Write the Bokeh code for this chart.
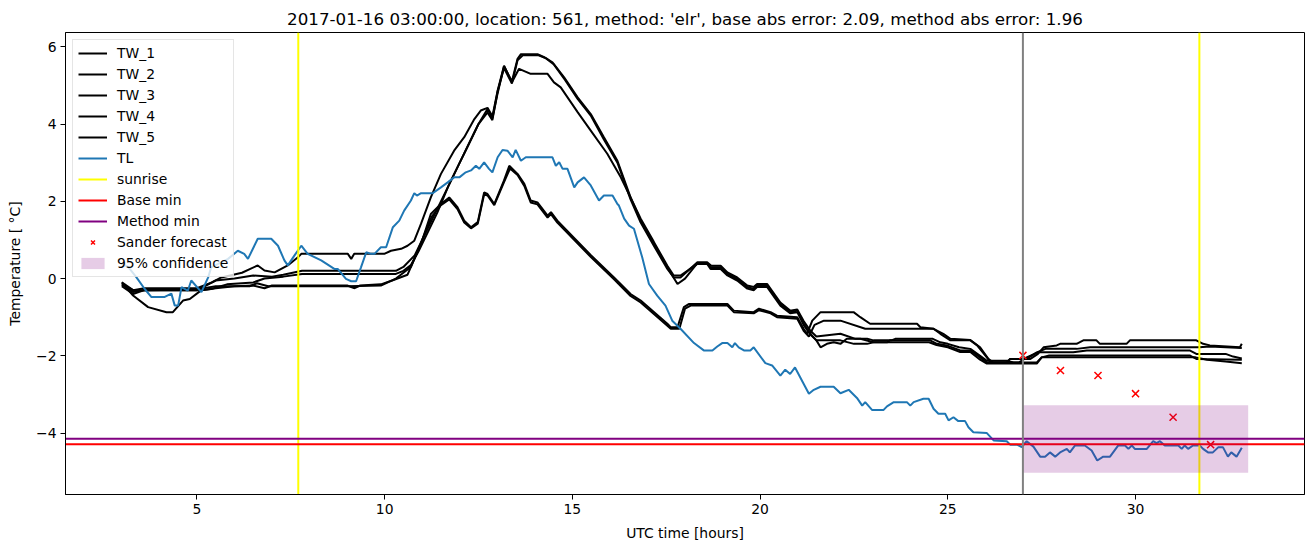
from bokeh.plotting import figure
from bokeh.models import Span, Legend, LegendItem, FixedTicker, Range1d
from bokeh.embed import file_html
from bokeh.resources import INLINE

TITLE = "2017-01-16 03:00:00, location: 561, method: 'elr', base abs error: 2.09, method abs error: 1.96"

# (hour, temperature) readings
TW_1 = [(3.0, -0.15), (3.3, -0.35), (3.6, -0.3), (5.0, -0.3), (5.2, -0.2), (5.5, -0.05), (6.0, 0.0), (6.5, 0.08),
        (7.0, 0.05), (7.3, 0.1), (7.8, 0.2), (10.3, 0.2), (10.5, 0.3), (10.8, 0.6), (11.0, 1.0), (11.3, 1.6),
        (11.6, 2.2), (11.9, 2.8), (12.2, 3.4), (12.5, 4.0), (12.74, 4.39), (12.87, 4.15), (13.01, 4.8),
        (13.18, 5.5), (13.39, 5.1), (13.54, 5.69), (13.63, 5.81), (14.07, 5.81), (14.25, 5.73), (14.47, 5.6),
        (14.78, 5.21), (15.14, 4.69), (15.49, 4.26), (15.84, 3.66), (16.20, 3.05), (16.55, 2.1), (16.82, 1.5),
        (17.17, 0.9), (17.53, 0.29), (17.80, -0.14), (18.0, 0.0), (18.33, 0.4), (18.59, 0.4), (18.68, 0.29),
        (18.95, 0.29), (19.13, 0.12), (19.39, -0.01), (19.66, -0.22), (19.83, -0.27), (19.92, -0.18),
        (20.19, -0.18), (20.54, -0.66), (20.80, -0.87), (20.99, -0.83), (21.16, -1.17), (21.34, -1.43),
        (21.5, -1.6), (21.61, -1.78), (21.78, -1.69), (21.96, -1.65), (22.14, -1.69), (22.31, -1.56),
        (22.67, -1.56), (23.02, -1.65), (23.38, -1.65), (23.46, -1.60), (24.53, -1.60), (24.71, -1.69),
        (24.97, -1.73), (25.33, -1.86), (25.60, -1.86), (25.86, -2.04), (26.04, -2.17), (26.9, -2.17),
        (27.1, -2.04), (27.4, -1.91), (28.34, -1.91), (28.70, -1.86), (31.44, -1.86), (31.62, -1.95),
        (32.4, -1.95), (32.6, -2.02), (32.83, -2.07)]

TW_2 = [(3.0, -0.2), (3.3, -0.4), (3.6, -0.3), (5.1, -0.3), (5.38, -0.27), (5.8, -0.15), (6.5, -0.1), (6.8, 0.0),
        (7.3, 0.05), (7.8, 0.12), (10.3, 0.12), (10.5, 0.2), (10.7, 0.35), (10.9, 0.7), (11.1, 1.1), (11.4, 1.7),
        (11.7, 2.4), (12.0, 3.0), (12.3, 3.6), (12.5, 4.0), (12.74, 4.3), (12.87, 4.1), (13.01, 4.85),
        (13.18, 5.45), (13.39, 5.05), (13.54, 5.65), (13.68, 5.78), (14.1, 5.78), (14.3, 5.7), (14.5, 5.55),
        (14.8, 5.15), (15.14, 4.65), (15.49, 4.22), (15.84, 3.6), (16.20, 3.0), (16.55, 2.05), (16.82, 1.45),
        (17.17, 0.85), (17.53, 0.25), (17.70, 0.03), (17.88, 0.03), (18.33, 0.42), (18.59, 0.42), (18.7, 0.33),
        (18.95, 0.33), (19.13, 0.16), (19.39, 0.03), (19.66, -0.18), (19.83, -0.22), (19.92, -0.14),
        (20.19, -0.14), (20.54, -0.62), (20.80, -0.83), (20.99, -0.8), (21.16, -1.1), (21.34, -1.35),
        (21.5, -1.5), (22.14, -1.43), (22.54, -1.56), (22.85, -1.56), (23.02, -1.6), (23.5, -1.6),
        (23.6, -1.56), (24.6, -1.56), (24.8, -1.65), (25.0, -1.69), (25.3, -1.78), (25.6, -1.82), (25.86, -2.0),
        (26.04, -2.13), (26.6, -2.13), (26.75, -2.17), (27.37, -2.17), (27.5, -2.04), (27.7, -1.99),
        (31.44, -1.99), (31.62, -2.08), (32.83, -2.10)]

TW_3 = [(3.0, -0.1), (3.3, -0.3), (3.6, -0.25), (5.0, -0.25), (5.4, -0.1), (5.65, 0.03), (6.2, 0.15), (6.62, 0.34),
        (6.80, 0.21), (7.07, 0.16), (7.42, 0.34), (7.69, 0.55), (7.78, 0.64), (9.02, 0.64), (9.11, 0.51),
        (9.19, 0.64), (9.99, 0.64), (10.17, 0.72), (10.44, 0.77), (10.61, 0.85), (10.79, 0.98), (10.97, 1.42),
        (11.23, 2.1), (11.50, 2.71), (11.85, 3.31), (12.12, 3.66), (12.39, 4.13), (12.56, 4.35), (12.74, 4.42),
        (12.87, 4.2), (13.01, 4.87), (13.18, 5.51), (13.39, 5.08), (13.58, 5.43), (13.89, 5.3), (14.34, 5.3),
        (14.51, 5.08), (14.69, 4.95), (15.14, 4.31), (15.49, 3.83), (15.93, 3.23), (16.29, 2.62), (16.55, 2.1),
        (16.82, 1.55), (17.17, 0.95), (17.53, 0.33), (17.70, 0.08), (17.88, 0.08), (18.33, 0.38), (18.59, 0.38),
        (18.68, 0.25), (18.95, 0.25), (19.13, 0.08), (19.39, -0.05), (19.66, -0.26), (19.83, -0.3),
        (19.92, -0.22), (20.19, -0.22), (20.54, -0.7), (20.80, -0.9), (20.99, -0.87), (21.16, -1.2),
        (21.34, -1.45), (21.5, -1.6), (22.14, -1.6), (22.5, -1.69), (22.85, -1.69), (23.02, -1.65),
        (24.5, -1.65), (24.7, -1.72), (25.0, -1.78), (25.33, -1.9), (25.6, -1.9), (25.86, -2.1), (26.04, -2.2),
        (27.37, -2.2), (27.5, -2.04), (31.6, -2.04), (31.9, -2.1), (32.4, -2.15), (32.83, -2.19)]

TW_4 = [(3.0, -0.1), (3.30, -0.44), (3.70, -0.74), (4.19, -0.87), (4.36, -0.87), (4.63, -0.57), (4.81, -0.53),
        (5.12, -0.3), (5.5, -0.25), (6.0, -0.2), (6.5, -0.18), (6.8, -0.25), (7.0, -0.18), (9.0, -0.18),
        (9.2, -0.25), (9.35, -0.18), (9.9, -0.15), (10.2, -0.05), (10.61, 0.1), (10.97, 0.9), (11.23, 1.67),
        (11.50, 1.93), (11.72, 2.1), (11.94, 1.85), (12.12, 1.5), (12.30, 1.33), (12.48, 1.46), (12.65, 2.23),
        (12.74, 2.19), (12.92, 1.93), (13.18, 2.54), (13.32, 2.92), (13.54, 2.71), (13.72, 2.45), (13.89, 2.02),
        (14.07, 1.97), (14.34, 1.63), (14.43, 1.72), (14.60, 1.5), (15.5, 0.6), (16.11, 0.03), (16.55, -0.40),
        (16.82, -0.57), (17.53, -1.17), (17.62, -1.26), (17.80, -1.26), (17.97, -0.74), (18.10, -0.66),
        (19.13, -0.66), (19.30, -0.83), (19.83, -0.87), (19.97, -0.78), (20.28, -0.87), (20.45, -0.96),
        (20.99, -1.0), (21.16, -1.30), (21.25, -1.43), (21.39, -1.09), (21.61, -0.87), (22.49, -0.87),
        (22.67, -1.0), (22.93, -1.17), (24.18, -1.17), (24.27, -1.26), (24.62, -1.30), (24.88, -1.43),
        (25.07, -1.56), (25.60, -1.59), (25.86, -1.78), (26.08, -2.08), (26.2, -2.17), (26.57, -2.17),
        (26.66, -2.08), (27.2, -2.08), (27.4, -1.95), (27.55, -1.78), (27.90, -1.73), (27.99, -1.69),
        (28.43, -1.69), (28.61, -1.60), (28.96, -1.60), (29.05, -1.69), (29.76, -1.69), (29.85, -1.60),
        (31.62, -1.60), (31.80, -1.69), (31.98, -1.73), (32.78, -1.78), (32.83, -1.69)]

TW_5 = [(3.0, -0.15), (3.3, -0.3), (3.6, -0.3), (5.0, -0.28), (5.5, -0.2), (6.4, -0.2), (6.6, -0.12), (6.9, -0.2),
        (9.0, -0.2), (9.9, -0.18), (10.3, 0.0), (10.7, 0.3), (11.0, 1.0), (11.25, 1.6), (11.5, 1.9),
        (11.72, 2.05), (11.94, 1.8), (12.12, 1.45), (12.30, 1.3), (12.48, 1.42), (12.65, 2.18), (12.74, 2.15),
        (12.92, 1.9), (13.18, 2.5), (13.34, 2.85), (13.54, 2.68), (13.72, 2.4), (13.89, 1.97), (14.07, 1.92),
        (14.34, 1.58), (14.43, 1.67), (14.60, 1.45), (15.5, 0.55), (16.11, -0.02), (16.55, -0.45),
        (16.82, -0.62), (17.53, -1.22), (17.62, -1.3), (17.85, -1.3), (18.0, -0.78), (18.15, -0.7),
        (19.13, -0.7), (19.30, -0.87), (19.83, -0.9), (19.97, -0.82), (20.28, -0.9), (20.45, -1.0),
        (20.99, -1.04), (21.16, -1.35), (21.30, -1.5), (21.45, -1.2), (21.7, -1.09), (22.14, -1.09),
        (22.8, -1.30), (24.62, -1.30), (24.80, -1.43), (25.07, -1.60), (25.60, -1.60), (25.78, -1.73),
        (26.04, -2.04), (26.14, -2.17), (26.57, -2.17), (26.66, -2.08), (27.10, -2.08), (27.37, -1.91),
        (27.6, -1.82), (28.43, -1.82), (28.79, -1.78), (31.7, -1.78), (31.98, -1.76), (32.83, -1.80)]

TL = [(3.0, 0.38), (3.17, 0.30), (3.39, 0.03), (3.61, -0.27), (3.79, -0.48), (4.13, -0.48), (4.32, -0.39),
      (4.41, -0.70), (4.50, -0.70), (4.59, -0.22), (4.76, -0.31), (4.85, -0.05), (5.12, -0.35), (5.30, 0.03),
      (5.38, 0.29), (5.83, 0.51), (6.09, 0.72), (6.26, 0.64), (6.36, 0.51), (6.62, 1.03), (6.98, 1.03),
      (7.16, 0.85), (7.33, 0.47), (7.42, 0.34), (7.60, 0.60), (7.78, 0.85), (7.95, 0.64), (8.31, 0.47),
      (8.66, 0.25), (8.75, 0.25), (8.97, -0.01), (9.11, -0.07), (9.24, -0.07), (9.37, 0.29), (9.51, 0.68),
      (9.64, 0.64), (9.73, 0.64), (9.90, 0.81), (10.04, 0.81), (10.22, 1.33), (10.39, 1.50), (10.52, 1.76),
      (10.70, 2.02), (10.79, 2.21), (10.86, 2.15), (10.97, 2.21), (11.28, 2.21), (11.50, 2.36), (11.68, 2.49),
      (11.85, 2.62), (11.99, 2.62), (12.16, 2.75), (12.30, 2.80), (12.43, 2.92), (12.52, 2.84), (12.65, 3.01),
      (12.78, 2.84), (12.87, 2.75), (13.01, 3.14), (13.14, 3.33), (13.27, 3.31), (13.41, 3.14), (13.49, 3.33),
      (13.63, 3.05), (13.76, 3.14), (14.47, 3.14), (14.56, 2.92), (14.65, 3.01), (14.74, 2.84), (14.87, 2.84),
      (15.05, 2.36), (15.14, 2.49), (15.31, 2.62), (15.49, 2.41), (15.71, 2.02), (15.84, 2.15), (16.07, 2.15),
      (16.20, 1.93), (16.24, 1.89), (16.38, 1.55), (16.51, 1.37), (16.64, 1.29), (16.86, 0.55), (17.04, -0.14),
      (17.26, -0.44), (17.48, -0.70), (17.66, -1.09), (17.88, -1.30), (18.24, -1.67), (18.50, -1.86),
      (18.73, -1.86), (18.86, -1.76), (18.99, -1.67), (19.13, -1.67), (19.26, -1.78), (19.33, -1.67),
      (19.43, -1.78), (19.57, -1.86), (19.74, -1.86), (19.83, -1.78), (20.14, -2.19), (20.32, -2.25),
      (20.54, -2.51), (20.67, -2.36), (20.80, -2.47), (20.93, -2.30), (21.30, -2.98), (21.43, -2.88),
      (21.61, -2.80), (21.96, -2.80), (22.14, -2.97), (22.36, -2.88), (22.58, -3.09), (22.72, -3.29),
      (22.80, -3.20), (22.98, -3.40), (23.29, -3.40), (23.38, -3.31), (23.56, -3.20), (23.91, -3.20),
      (24.00, -3.29), (24.09, -3.20), (24.35, -3.11), (24.49, -3.11), (24.62, -3.37), (24.75, -3.50),
      (24.93, -3.50), (25.02, -3.67), (25.15, -3.59), (25.28, -3.69), (25.46, -3.69), (25.55, -3.85),
      (25.68, -3.98), (26.04, -4.00), (26.22, -4.19), (26.57, -4.21), (26.66, -4.30), (26.84, -4.30),
      (26.97, -4.36), (27.10, -4.21), (27.28, -4.35), (27.46, -4.61), (27.59, -4.61), (27.72, -4.50),
      (27.86, -4.61), (27.99, -4.50), (28.17, -4.41), (28.25, -4.50), (28.39, -4.32), (28.65, -4.32),
      (28.83, -4.45), (28.98, -4.71), (29.14, -4.61), (29.32, -4.61), (29.54, -4.32), (29.72, -4.32),
      (29.81, -4.41), (29.90, -4.32), (29.98, -4.41), (30.30, -4.41), (30.47, -4.21), (30.56, -4.26),
      (30.65, -4.21), (30.78, -4.32), (31.14, -4.32), (31.23, -4.41), (31.31, -4.32), (31.40, -4.41),
      (31.53, -4.32), (31.71, -4.32), (31.80, -4.41), (31.93, -4.50), (32.06, -4.50), (32.20, -4.37),
      (32.33, -4.37), (32.46, -4.61), (32.55, -4.50), (32.69, -4.61), (32.83, -4.38)]

SUNRISE = [7.7, 31.7]
FORECAST_TIME = 27.0
BASE_MIN = -4.29
METHOD_MIN = -4.15
SANDER_T = [27, 28, 29, 30, 31, 32]
SANDER_V = [-1.99, -2.38, -2.51, -2.98, -3.59, -4.30]
CONF_T = [27.0, 33.0]
CONF_LO = [-5.03, -5.03]
CONF_HI = [-3.28, -3.28]

X_TICKS = [5, 10, 15, 20, 25, 30]
Y_TICKS = [-4, -2, 0, 2, 4, 6]
X_LIM = (1.5, 34.5)
Y_LIM = (-5.59, 6.37)

FONT = "DejaVu Sans"

p = figure(width=1313, height=547, output_backend="svg", toolbar_location=None,
           x_range=Range1d(*X_LIM), y_range=Range1d(*Y_LIM),
           min_border_left=65, min_border_right=9, min_border_top=32, min_border_bottom=53,
           title=TITLE)
p.title.text_font = FONT
p.title.text_font_size = "16.7px"
p.title.text_font_style = "normal"
p.title.align = "center"
p.title.text_color = "black"
p.title.standoff = 8

p.xgrid.visible = False
p.ygrid.visible = False
p.outline_line_color = "black"
p.outline_line_width = 1
p.outline_line_alpha = 1
p.background_fill_color = "white"
p.border_fill_color = "white"

for ax in (p.xaxis[0], p.yaxis[0]):
    ax.axis_line_color = "black"
    ax.major_tick_line_color = "black"
    ax.major_tick_out = 5
    ax.major_tick_in = 0
    ax.minor_tick_line_color = None
    ax.major_label_text_font = FONT
    ax.major_label_text_font_size = "13.9px"
    ax.major_label_text_color = "black"
    ax.axis_label_text_font = FONT
    ax.axis_label_text_font_size = "13.9px"
    ax.axis_label_text_font_style = "normal"
    ax.axis_label_text_color = "black"
    ax.major_label_standoff = 4

p.xaxis.ticker = FixedTicker(ticks=X_TICKS)
p.yaxis.ticker = FixedTicker(ticks=Y_TICKS)
p.yaxis.major_label_overrides = {t: (str(t).replace("-", "\u2212")) for t in Y_TICKS}
p.xaxis.axis_label = "UTC time [hours]"
p.yaxis.axis_label = "Temperature [ \u00b0C]"
p.xaxis.axis_label_standoff = 8
p.yaxis.axis_label_standoff = 10

tw_renderers = []
for series in (TW_1, TW_2, TW_3, TW_4, TW_5):
    xs = [a for a, b in series]
    ys = [b for a, b in series]
    tw_renderers.append(p.line(xs, ys, line_color="black", line_width=2))

tl_r = p.line([a for a, b in TL], [b for a, b in TL], line_color="#1f77b4", line_width=2)

# forecast time marker (not in legend)
p.add_layout(Span(location=FORECAST_TIME, dimension="height", line_color="gray", line_width=2))

# full-height / full-width reference lines spanning the axis limits
sun_r = p.segment(x0=SUNRISE, x1=SUNRISE, y0=[Y_LIM[0]] * len(SUNRISE), y1=[Y_LIM[1]] * len(SUNRISE),
                  line_color="yellow", line_width=2)
base_r = p.segment(x0=[X_LIM[0]], x1=[X_LIM[1]], y0=[BASE_MIN], y1=[BASE_MIN], line_color="red", line_width=2)
meth_r = p.segment(x0=[X_LIM[0]], x1=[X_LIM[1]], y0=[METHOD_MIN], y1=[METHOD_MIN], line_color="purple",
                   line_width=2)

sander_r = p.scatter(SANDER_T, SANDER_V, marker="x", size=10, line_color="red", line_width=1.5)
conf_r = p.varea(x=CONF_T, y1=CONF_LO, y2=CONF_HI, fill_color="purple", fill_alpha=0.2)

items = [LegendItem(label=f"TW_{i+1}", renderers=[r]) for i, r in enumerate(tw_renderers)]
items += [
    LegendItem(label="TL", renderers=[tl_r]),
    LegendItem(label="sunrise", renderers=[sun_r]),
    LegendItem(label="Base min", renderers=[base_r]),
    LegendItem(label="Method min", renderers=[meth_r]),
    LegendItem(label="Sander forecast", renderers=[sander_r]),
    LegendItem(label="95% confidence", renderers=[conf_r]),
]
legend = Legend(items=items, location="top_left")
legend.margin = 7
legend.padding = 5
legend.spacing = 5
legend.label_height = 14
legend.glyph_height = 14
legend.glyph_width = 29
legend.label_standoff = 10
legend.label_text_font = FONT
legend.label_text_font_size = "13.9px"
legend.label_text_color = "black"
legend.border_line_color = "#cccccc"
legend.border_line_width = 1
legend.background_fill_alpha = 0.8
p.add_layout(legend)

open("out.html", "w").write(file_html(p, INLINE))
